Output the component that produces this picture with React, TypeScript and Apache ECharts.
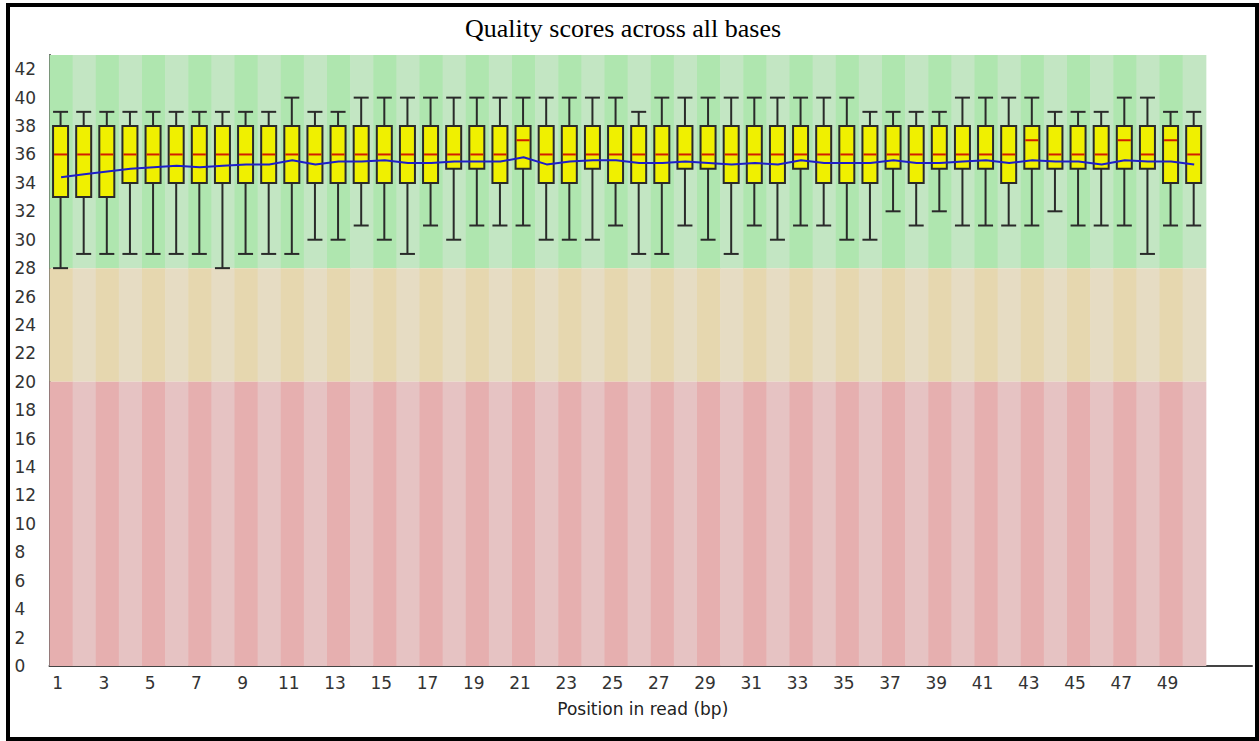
import React, { useEffect, useRef } from 'react';
import * as echarts from 'echarts';

const positions = ['1','2','3','4','5','6','7','8','9','10','11','12','13','14','15','16','17','18','19','20','21','22','23','24','25','26','27','28','29','30','31','32','33','34','35','36','37','38','39','40','41','42','43','44','45','46','47','48','49','50'];
const axisCategories = [...positions, '', ''];

const whiskerHigh = [39,39,39,39,39,39,39,39,39,39,40,39,39,40,40,40,40,40,40,40,40,40,40,40,40,39,40,40,40,40,40,40,40,40,40,39,39,39,39,40,40,40,40,39,39,39,40,40,39,39];
const upperQuartile = [38,38,38,38,38,38,38,38,38,38,38,38,38,38,38,38,38,38,38,38,38,38,38,38,38,38,38,38,38,38,38,38,38,38,38,38,38,38,38,38,38,38,38,38,38,38,38,38,38,38];
const medianQuality = [36,36,36,36,36,36,36,36,36,36,36,36,36,36,36,36,36,36,36,36,37,36,36,36,36,36,36,36,36,36,36,36,36,36,36,36,36,36,36,36,36,36,37,36,36,36,37,36,37,36];
const lowerQuartile = [33,33,33,34,34,34,34,34,34,34,34,34,34,34,34,34,34,35,35,34,35,34,34,35,34,34,34,35,35,34,34,34,35,34,34,34,35,34,35,35,35,34,35,35,35,35,35,35,34,34];
const whiskerLow = [28,29,29,29,29,29,29,28,29,29,29,30,30,31,30,29,31,30,31,31,31,30,30,30,31,29,29,31,30,29,31,30,31,31,30,30,32,31,32,31,31,31,31,32,31,31,31,29,31,31];
const meanQuality = [34.4,34.6,34.8,35.0,35.1,35.2,35.1,35.2,35.3,35.3,35.6,35.3,35.5,35.5,35.6,35.4,35.4,35.5,35.5,35.5,35.8,35.3,35.5,35.6,35.6,35.4,35.4,35.5,35.4,35.3,35.4,35.3,35.6,35.4,35.4,35.4,35.6,35.4,35.4,35.5,35.6,35.4,35.6,35.5,35.5,35.3,35.6,35.5,35.5,35.3];

const zones = [
  { lo: 28, hi: 43, dark: 'rgb(175,230,175)', light: 'rgb(195,230,195)' },
  { lo: 20, hi: 28, dark: 'rgb(230,215,175)', light: 'rgb(230,220,195)' },
  { lo: 0, hi: 20, dark: 'rgb(230,175,175)', light: 'rgb(230,195,195)' },
];

const yMax = 43;
const titleText = 'Quality scores across all bases';
const xAxisName = 'Position in read (bp)';

export default function App() {
  const ref = useRef<HTMLDivElement>(null);
  useEffect(() => {
    if (!ref.current) return;
    const chart = echarts.init(ref.current, null, { renderer: 'svg' });
    const bgData = positions.map((_, i) => [i]);
    const boxData = positions.map((_, i) => [i, whiskerLow[i], lowerQuartile[i], medianQuality[i], upperQuartile[i], whiskerHigh[i]]);
    const option: any = {
      animation: false,
      backgroundColor: '#fff',
      grid: { left: 49.5, right: 7, top: 55, bottom: 75 },
      graphic: [
        {
          type: 'text',
          x: 623,
          y: 28,
          style: {
            text: titleText,
            fontFamily: 'Liberation Serif',
            fontSize: 26,
            fill: '#000',
            align: 'center',
            verticalAlign: 'middle',
          },
          z: 50,
        },
        {
          type: 'rect',
          shape: { x: 8, y: 5, width: 1249, height: 734 },
          style: { fill: 'none', stroke: '#000', lineWidth: 4 },
          z: 100,
        },
      ],
      xAxis: {
        type: 'category',
        data: axisCategories,
        boundaryGap: true,
        name: xAxisName,
        nameLocation: 'middle',
        nameGap: 34,
        nameTextStyle: { fontFamily: 'DejaVu Sans', fontSize: 17, color: '#222', padding: [0, 16, 0, 0] },
        axisLine: { lineStyle: { color: '#444', width: 2 } },
        axisTick: { show: false },
        splitLine: { show: false },
        axisLabel: {
          interval: 1,
          margin: 8,
          fontFamily: 'DejaVu Sans',
          fontSize: 17,
          color: '#333',
          padding: [0, 7, 0, 0],
        },
      },
      yAxis: {
        type: 'value',
        min: 0,
        max: yMax,
        interval: 2,
        axisLine: { show: true, lineStyle: { color: '#444', width: 2 } },
        axisTick: { show: false },
        splitLine: { show: false },
        axisLabel: {
          showMaxLabel: false,
          align: 'left',
          margin: 35,
          fontFamily: 'DejaVu Sans',
          fontSize: 17,
          color: '#333',
          padding: [5, 0, 0, 0],
        },
      },
      series: [
        {
          type: 'custom',
          z: 1,
          data: bgData,
          encode: { x: 0 },
          renderItem: (params: any, api: any) => {
            const i = api.value(0);
            const size = api.size([1, 0])[0];
            const cx = api.coord([i, 0])[0];
            const x0 = cx - size / 2;
            return {
              type: 'group',
              children: zones.map((z) => {
                const top = api.coord([i, z.hi])[1];
                const bottom = api.coord([i, z.lo])[1];
                return {
                  type: 'rect',
                  shape: { x: x0, y: top, width: size + 0.6, height: bottom - top },
                  style: { fill: i % 2 === 0 ? z.dark : z.light },
                };
              }),
            };
          },
        },
        {
          type: 'custom',
          z: 3,
          data: boxData,
          encode: { x: 0, y: [1, 2, 3, 4, 5] },
          renderItem: (params: any, api: any) => {
            const i = api.value(0);
            const xc = api.coord([i, 0])[0] - 0.5;
            const yLow = api.coord([i, api.value(1)])[1];
            const yQ1 = api.coord([i, api.value(2)])[1];
            const yMed = api.coord([i, api.value(3)])[1];
            const yQ3 = api.coord([i, api.value(4)])[1];
            const yHigh = api.coord([i, api.value(5)])[1];
            const half = 7.5;
            const ws = { stroke: '#2a2a2a', lineWidth: 2 };
            return {
              type: 'group',
              children: [
                { type: 'line', shape: { x1: xc, y1: yHigh, x2: xc, y2: yQ3 }, style: ws },
                { type: 'line', shape: { x1: xc, y1: yQ1, x2: xc, y2: yLow }, style: ws },
                { type: 'line', shape: { x1: xc - half, y1: yHigh, x2: xc + half, y2: yHigh }, style: ws },
                { type: 'line', shape: { x1: xc - half, y1: yLow, x2: xc + half, y2: yLow }, style: ws },
                {
                  type: 'rect',
                  shape: { x: xc - half, y: yQ3, width: half * 2, height: yQ1 - yQ3 },
                  style: { fill: 'rgb(240,240,0)', stroke: '#2a2a2a', lineWidth: 2 },
                },
                {
                  type: 'line',
                  shape: { x1: xc - half + 1, y1: yMed, x2: xc + half - 1, y2: yMed },
                  style: { stroke: 'rgb(210,30,0)', lineWidth: 2 },
                },
              ],
            };
          },
        },
        {
          type: 'line',
          z: 5,
          data: meanQuality,
          symbol: 'none',
          smooth: false,
          lineStyle: { color: 'rgb(30,30,200)', width: 2 },
        },
      ],
    };
    chart.setOption(option);
    return () => chart.dispose();
  }, []);
  return (
    <div
      ref={ref}
      style={{ position: 'absolute', left: 0, top: 0, width: 1259, height: 741, background: '#fff' }}
    />
  );
}
